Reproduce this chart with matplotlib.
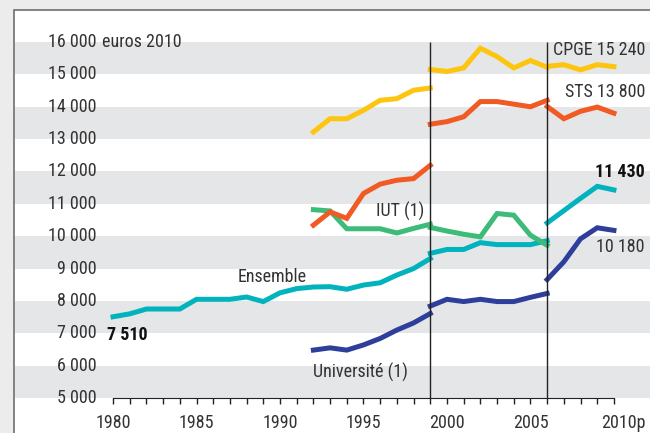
import numpy as np
import matplotlib
matplotlib.use('Agg')
import matplotlib.pyplot as plt
from matplotlib.patches import Rectangle
from matplotlib.transforms import ScaledTranslation

plt.rcParams['font.family'] = ['Roboto Condensed', 'Liberation Sans', 'DejaVu Sans']

# years for the three series pieces (breaks in 1999 and 2006)
years_80 = list(range(1980, 2000))
years_92 = list(range(1992, 2000))
years_99 = list(range(1999, 2007))
years_06 = list(range(2006, 2011))

# Ensemble
ens_1 = [7510, 7600, 7750, 7750, 7750, 8050, 8050, 8050, 8120, 7980,
         8250, 8380, 8430, 8440, 8360, 8490, 8560, 8800, 9000, 9310]
ens_2 = [9470, 9590, 9590, 9800, 9740, 9740, 9740, 9860]
ens_3 = [10410, 10790, 11170, 11540, 11430]
# Universite
univ_1 = [6480, 6550, 6480, 6640, 6840, 7100, 7320, 7610]
univ_2 = [7840, 8050, 7980, 8050, 7980, 7980, 8110, 8230]
univ_3 = [8660, 9210, 9920, 10260, 10180]
# IUT
iut_1 = [10820, 10780, 10230, 10230, 10230, 10100, 10240, 10370]
iut_2 = [10270, 10160, 10060, 9980, 10700, 10650, 10030, 9720]
# STS
sts_1 = [10340, 10750, 10550, 11320, 11610, 11730, 11780, 12190]
sts_2 = [13460, 13540, 13690, 14160, 14160, 14080, 14000, 14200]
sts_3 = [14010, 13630, 13860, 13990, 13800]
# CPGE
cpge_1 = [13220, 13630, 13630, 13890, 14200, 14250, 14510, 14580]
cpge_2 = [15150, 15090, 15200, 15810, 15550, 15200, 15430, 15220]
cpge_3 = [15250, 15300, 15140, 15300, 15240]

yticks = list(range(5000, 16001, 1000))
ytick_labels = ['5 000', '6 000', '7 000', '8 000', '9 000', '10 000', '11 000',
                '12 000', '13 000', '14 000', '15 000', '16 000']
xticks = [1980, 1985, 1990, 1995, 2000, 2005, 2010]
xtick_labels = ['1980', '1985', '1990', '1995', '2000', '2005', '2010p']
breaks = [1999, 2006]

txt = '#333333'
fs = 13
fig = plt.figure(figsize=(6.5, 4.33), dpi=100, facecolor='#ececec')
fig.patches.append(Rectangle((14/650, -0.1), 1.0, 423/433 + 0.1, transform=fig.transFigure,
                             fc='white', ec='#6e6e6e', lw=1.2, zorder=-5))
ax = fig.add_axes([15/650, 35/433, 635/650, 388/433])
ax.patch.set_alpha(0)
ax.set_xlim(1974.13, 2012.16)
ax.set_ylim(5000, 16990)

for lo in range(5000, 16000, 2000):
    ax.axhspan(lo, lo + 1000, color='#e5e6e8', lw=0, zorder=0)

for b in breaks:
    ax.vlines(b, 5000, 16000, color='#222222', lw=1, zorder=3)

lw = 3.6
series = [
    ('#00b3bd', [(years_80, ens_1), (years_99, ens_2), (years_06, ens_3)]),
    ('#2e3f9b', [(years_92, univ_1), (years_99, univ_2), (years_06, univ_3)]),
    ('#3dbb78', [(years_92, iut_1), (years_99, iut_2)]),
    ('#f15a22', [(years_92, sts_1), (years_99, sts_2), (years_06, sts_3)]),
    ('#fec50f', [(years_92, cpge_1), (years_99, cpge_2), (years_06, cpge_3)]),
]
for color, parts in series:
    for xs, ys in parts:
        ax.plot(xs, ys, color=color, lw=lw, solid_joinstyle='miter', zorder=2)

for s in ['left', 'right', 'top']:
    ax.spines[s].set_visible(False)
ax.spines['bottom'].set_bounds(1980, 2010)
ax.spines['bottom'].set_color('#222222')

ax.set_xticks(xticks)
ax.set_xticklabels(xtick_labels)
ax.set_xticks(range(1980, 2011), minor=True)
ax.tick_params(axis='x', which='both', direction='out', length=4.5, width=1,
               color='#222222', labelsize=fs, labelcolor=txt, pad=7)
lab = ax.get_xticklabels()[-1]
lab.set_transform(lab.get_transform() + ScaledTranslation(0.09, 0, fig.dpi_scale_trans))

ax.set_yticks(yticks)
ax.set_yticklabels(ytick_labels)
ax.tick_params(axis='y', length=0, pad=-59, labelsize=fs, labelcolor=txt)
for t in ax.get_yticklabels():
    t.set_verticalalignment('center')
ax.text(0.137, 16000, 'euros 2010', transform=ax.get_yaxis_transform(),
        fontsize=fs, color=txt, va='center', ha='left')

ax.text(2011.86, 15753, 'CPGE 15 240', ha='right', va='center', fontsize=fs, color=txt)
ax.text(2011.86, 14455, 'STS 13 800', ha='right', va='center', fontsize=fs, color=txt)
ax.text(2011.86, 11983, '11 430', ha='right', va='center', fontsize=fs, color='#111111',
        fontweight='bold')
ax.text(2011.86, 9665, '10 180', ha='right', va='center', fontsize=fs, color=txt)
ax.text(1995.75, 10756, 'IUT (1)', ha='left', va='center', fontsize=fs, color=txt)
ax.text(1987.49, 8748, 'Ensemble', ha='left', va='center', fontsize=fs, color=txt)
ax.text(1979.64, 6947, '7 510', ha='left', va='center', fontsize=fs, color='#111111',
        fontweight='bold')
ax.text(1991.98, 5803, 'Université (1)', ha='left', va='center', fontsize=fs, color=txt)

fig.savefig('out.png', dpi=100, facecolor=fig.get_facecolor())
